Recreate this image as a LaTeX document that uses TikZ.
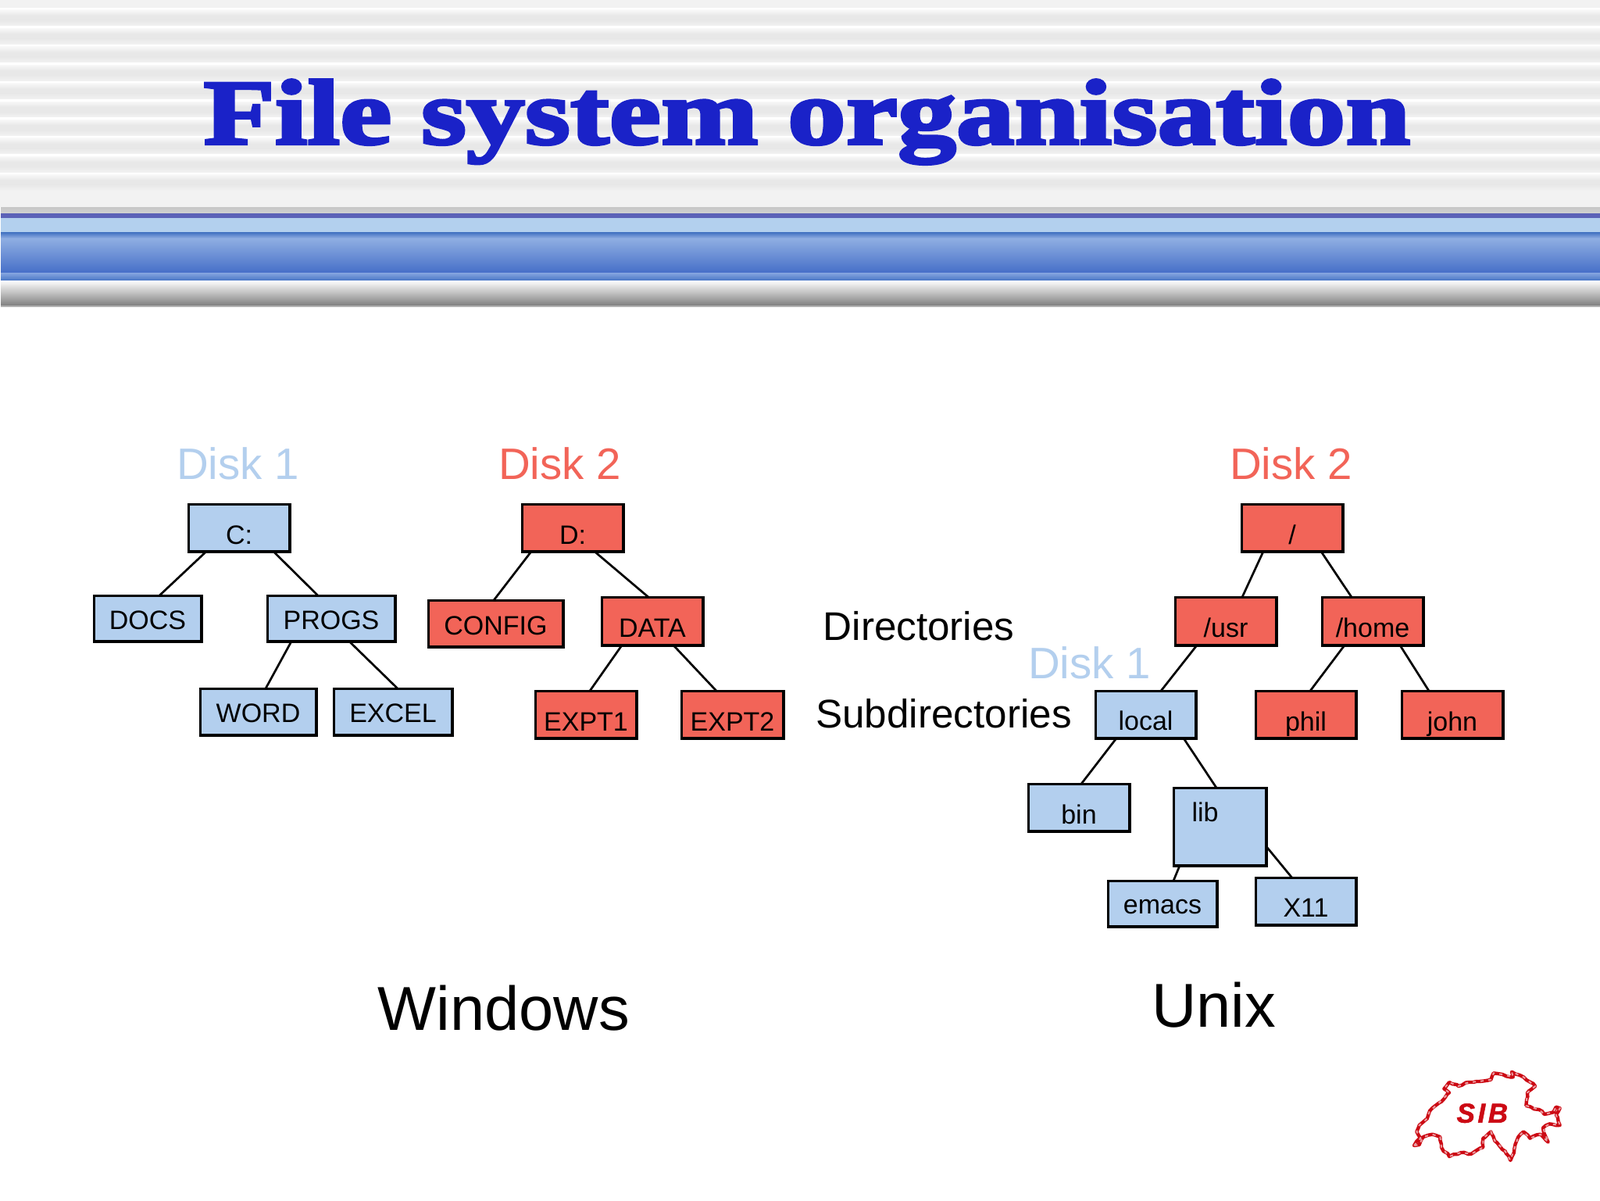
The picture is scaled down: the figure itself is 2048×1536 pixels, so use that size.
\documentclass[tikz,border=0pt]{standalone}
\usepackage{fontspec}
\setmainfont{Liberation Sans}
\newfontfamily\titlefont[FakeBold=3.4,FakeStretch=1.267]{Liberation Serif Bold}
\newfontfamily\siblogo[FakeBold=1.5]{Liberation Sans Bold Italic}
\usetikzlibrary{decorations.pathmorphing}
\definecolor{diskblue}{HTML}{B3CFEE}
\definecolor{diskred}{HTML}{F26458}
\definecolor{titleblue}{HTML}{1A22C8}
\definecolor{logored}{HTML}{CC0A14}
\definecolor{bandnavy}{RGB}{92,98,184}
\definecolor{bandpale}{RGB}{179,208,238}
\definecolor{bandline}{RGB}{63,111,192}
\definecolor{bandtop}{RGB}{143,174,226}
\definecolor{bandlow}{RGB}{70,111,200}
\definecolor{bandrimtop}{RGB}{134,166,224}
\definecolor{bandrimlow}{RGB}{79,123,200}
\tikzset{
  x=0.5pt,y=-0.5pt,
  treebox/.style={draw=black,line width=1.7pt,inner sep=0pt,outer sep=0pt,
    font=\fontsize{17}{20}\selectfont},
  bluebox/.style={treebox,fill=diskblue},
  redbox/.style={treebox,fill=diskred},
  link/.style={draw=black,line width=1.35pt},
  disklabel/.style={anchor=base,inner sep=0pt,font=\fontsize{28.2}{32}\selectfont},
  sidelabel/.style={anchor=base,inner sep=0pt,font=\fontsize{25.6}{30}\selectfont},
  oslabel/.style={anchor=base,inner sep=0pt,font=\fontsize{39.7}{48}\selectfont},
}
\newcommand\bx[8]{%
  \pgfmathsetlengthmacro\bxw{(#5-#3-2.4)*0.5pt}%
  \pgfmathsetlengthmacro\bxa{(#7-#4-1.2)*0.5pt}%
  \pgfmathsetlengthmacro\bxb{(#6-#7-1.2)*0.5pt}%
  \pgfmathsetlengthmacro\bxh{(#6-#4-2.4)*0.5pt}%
  \node[#1,minimum width=\bxw,minimum height=\bxh,text height=\bxa,text depth=\bxb]
    (#2) at ({(#3+#5)/2},{(#4+#6)/2}) {#8};}
\newcommand\conn[4]{%
  \pgfmathsetlengthmacro\cna{(#2-1.2)*0.5pt}%
  \pgfmathsetlengthmacro\cnb{(#4-1.2)*0.5pt}%
  \draw[link] ([xshift=\cna]#1.south west) -- ([xshift=\cnb]#3.north west);}
\begin{document}
\begin{tikzpicture}
\useasboundingbox (0,0) rectangle (2048,1536);
\fill[white] (0,0) rectangle (2048,1536);
% striped header
\fill[black!5] (0,0) rectangle (2048,265);
\foreach \k in {1,...,10}{
  \pgfmathsetmacro\ya{-13.4+23.4*\k}
  \pgfmathsetmacro\yb{\ya+10}
  \pgfmathsetmacro\yc{\ya+16}
  \pgfmathsetmacro\yd{\ya+23.4}
  \fill[white] (0,\ya) rectangle (2048,\ya+3);
  \shade[top color=black!3,bottom color=black!9] (0,\ya+3) rectangle (2048,\yb);
  \fill[black!9] (0,\yb) rectangle (2048,\yc);
  \shade[top color=black!9,bottom color=black!5] (0,\yc) rectangle (2048,\yd);
}
% band
\shade[top color=black!22,bottom color=black!18] (1,265) rectangle (2048,273);
\fill[bandnavy] (1,273) rectangle (2048,279);
\fill[bandpale] (1,279) rectangle (2048,297);
\shade[top color=bandline,bottom color=bandtop] (1,297) rectangle (2048,305);
\shade[top color=bandtop,bottom color=bandlow] (1,305) rectangle (2048,349);
\shade[top color=bandrimtop,bottom color=bandrimlow] (1,349) rectangle (2048,358);
\shade[top color=black!2,bottom color=black!50] (1,360) rectangle (2048,391);
\fill[black!30] (1,391) rectangle (2048,393);
% title
\node[anchor=base,inner sep=0pt,text=titleblue,font=\titlefont\fontsize{59}{70}\selectfont] (title) at (1033,184) {File system organisation};
% labels
\node[disklabel,text=diskblue] (d1w) at (304.5,613) {Disk 1};
\node[disklabel,text=diskred] (d2w) at (716.5,613) {Disk 2};
\node[disklabel,text=diskred] (d2u) at (1652.5,613) {Disk 2};
\node[disklabel,text=diskblue] (d1u) at (1394.5,868) {Disk 1};
\node[sidelabel] (dirs) at (1176,819) {Directories};
\node[sidelabel] (subd) at (1208,931) {Subdirectories};
\node[oslabel] (win) at (645,1318) {Windows};
\node[oslabel] (unix) at (1553.5,1314) {Unix};
% Windows trees
\bx{bluebox}{C}{240}{644}{372}{707}{696}{C:}
\bx{bluebox}{DOCS}{119}{761}{259}{822}{805}{DOCS}
\bx{bluebox}{PROGS}{341}{761}{507}{822}{805}{PROGS}
\bx{bluebox}{WORD}{255}{880}{406}{942}{924}{WORD}
\bx{bluebox}{EXCEL}{426}{880}{580}{942}{924}{EXCEL}
\bx{redbox}{D}{667}{644}{799}{707}{696}{D:}
\bx{redbox}{CONFIG}{547}{767}{722}{829}{812}{CONFIG}
\bx{redbox}{DATA}{769}{763}{901}{827}{815}{DATA}
\bx{redbox}{EXPTa}{684}{883}{816}{946}{935}{EXPT1}
\bx{redbox}{EXPTb}{871}{883}{1004}{946}{935}{EXPT2}
% Unix tree
\bx{redbox}{root}{1588}{644}{1720}{707}{696}{/}
\bx{redbox}{usr}{1503}{763}{1635}{827}{815}{/usr}
\bx{redbox}{home}{1691}{763}{1823}{827}{815}{/home}
\bx{redbox}{phil}{1606}{883}{1737}{946}{935}{phil}
\bx{redbox}{john}{1793}{883}{1925}{946}{935}{john}
\bx{bluebox}{local}{1401}{883}{1532}{946}{934}{local}
\bx{bluebox}{bin}{1315}{1002}{1447}{1065}{1054}{bin}
\bx{bluebox}{lib}{1501}{1007}{1622}{1109}{1051}{lib\kern19pt}
\bx{bluebox}{emacs}{1417}{1126}{1559}{1187}{1169}{emacs}
\bx{bluebox}{Xeleven}{1606}{1122}{1737}{1185}{1173}{X11}
% connectors
\conn{C}{24}{DOCS}{85}
\conn{C}{110}{PROGS}{66}
\conn{PROGS}{32}{WORD}{85}
\conn{PROGS}{106}{EXCEL}{83}
\conn{D}{13}{CONFIG}{85}
\conn{D}{94}{DATA}{61}
\conn{DATA}{27}{EXPTa}{71}
\conn{DATA}{93}{EXPTb}{46}
\conn{root}{29}{usr}{87}
\conn{root}{103}{home}{39}
\conn{usr}{29}{local}{85}
\conn{home}{30}{phil}{71}
\conn{home}{101}{john}{36}
\conn{local}{28}{bin}{69}
\conn{local}{114}{lib}{56}
\conn{lib}{9}{emacs}{85}
\draw[link] ([yshift=-37.5pt]lib.north east) -- ([xshift=23.25pt]Xeleven.north west);
% logo
\begin{scope}[shift={(1780,1340)},x=0.16667pt,y=-0.16667pt]
\def\swissmap{(90,378)--(115,350)--(100,325)--(110,300)--(140,275)--(150,245)--(185,215)--(225,175)--(205,160)--(225,135)--(260,150)--(300,135)--(340,132)--(385,125)--(395,100)--(430,105)--(470,115)--(465,95)--(510,115)--(555,150)--(525,175)--(520,225)--(570,240)--(590,258)--(625,250)--(635,230)--(650,235)--(635,260)--(650,300)--(610,295)--(585,310)--(605,365)--(575,335)--(535,350)--(510,325)--(490,345)--(475,390)--(460,435)--(440,400)--(400,360)--(385,325)--(355,350)--(355,385)--(310,410)--(270,405)--(225,420)--(195,385)--(190,345)--(160,335)--(125,345)--(110,375)--cycle}
\draw[logored,line width=2.2pt,line join=round,decorate,decoration={random steps,segment length=2.5pt,amplitude=0.6pt}] \swissmap;
\draw[white!60!logored,line width=1pt,dash pattern=on 2pt off 3pt] \swissmap;
\node[anchor=base,inner sep=0pt,text=logored,font=\siblogo\fontsize{17.5}{20}\selectfont] (sib) at (352,290) {S\kern1.8pt I\kern1.8pt B};
\end{scope}
\end{tikzpicture}
\end{document}
